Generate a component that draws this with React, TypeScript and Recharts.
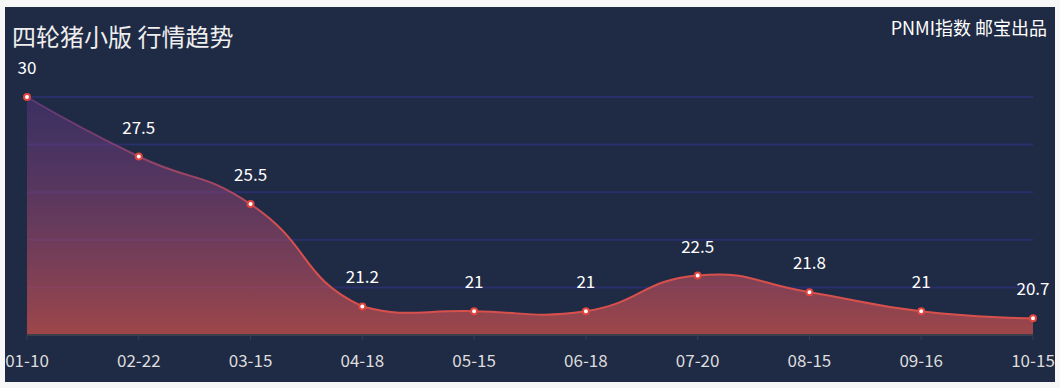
import { AreaChart, Area, XAxis, YAxis, CartesianGrid } from 'recharts';

const dates = ['01-10', '02-22', '03-15', '04-18', '05-15', '06-18', '07-20', '08-15', '09-16', '10-15'];
const prices = [30, 27.5, 25.5, 21.2, 21, 21, 22.5, 21.8, 21, 20.7];
const yTicks = [20, 22, 24, 26, 28, 30];

const data = dates.map((date, i) => ({ date, price: prices[i] }));

const FONT = '"Noto Sans CJK SC", "Noto Sans", sans-serif';

// echarts-style smooth bezier (smooth = 0.5, clamped to the points' bounding box)
const smoothCurve = (context: any) => {
  let pts: number[][] = [];
  let line = NaN;
  const draw = () => {
    if (!pts.length) return;
    const smooth = 0.5;
    const xs = pts.map((p) => p[0]);
    const ys = pts.map((p) => p[1]);
    const minX = Math.min(...xs), maxX = Math.max(...xs);
    const minY = Math.min(...ys), maxY = Math.max(...ys);
    const clampX = (v: number) => Math.max(minX, Math.min(maxX, v));
    const clampY = (v: number) => Math.max(minY, Math.min(maxY, v));
    const [x0, y0] = pts[0];
    if (line) context.lineTo(x0, y0);
    else context.moveTo(x0, y0);
    let cp0 = [x0, y0];
    for (let i = 1; i < pts.length; i++) {
      const p = pts[i];
      const prev = pts[i - 1];
      const next = pts[i + 1];
      let cp1 = [p[0], p[1]];
      let v = [0, 0];
      let ratio = 0.5;
      if (next) {
        v = [next[0] - prev[0], next[1] - prev[1]];
        const lenPrev = Math.hypot(p[0] - prev[0], p[1] - prev[1]);
        const lenNext = Math.hypot(next[0] - p[0], next[1] - p[1]);
        ratio = lenNext / (lenNext + lenPrev || 1);
        cp1 = [p[0] - v[0] * smooth * (1 - ratio), p[1] - v[1] * smooth * (1 - ratio)];
      }
      context.bezierCurveTo(
        clampX(cp0[0]), clampY(cp0[1]),
        clampX(cp1[0]), clampY(cp1[1]),
        p[0], p[1]
      );
      cp0 = [p[0] + v[0] * smooth * ratio, p[1] + v[1] * smooth * ratio];
    }
  };
  return {
    areaStart() { line = 0; },
    areaEnd() { line = NaN; },
    lineStart() { pts = []; },
    point(x: number, y: number) { pts.push([+x, +y]); },
    lineEnd() {
      draw();
      if (line || (line !== 0 && pts.length === 1)) context.closePath();
      line = 1 - line;
    },
  };
};

const NoTick = () => <g />;

export default function App() {
  return (
    <div style={{ position: 'fixed', left: 0, top: 0, width: 1060, height: 388, background: '#f7f7f8' }}>
      <div
        style={{
          position: 'absolute',
          left: 5,
          top: 7,
          width: 1050,
          height: 375,
          background: '#1f2a44',
          fontFamily: FONT,
        }}
      >
        <div style={{ position: 'absolute', left: 7, top: 13, fontSize: 24, color: '#eeeeee', lineHeight: '32px' }}>
          四轮猪小版 行情趋势
        </div>
        <div style={{ position: 'absolute', right: 8, top: 8, fontSize: 18, color: '#ffffff', lineHeight: '24px' }}>
          PNMI指数 邮宝出品
        </div>
        <AreaChart
          width={1050}
          height={375}
          data={data}
          margin={{ top: 90, right: 22, bottom: 17, left: 22 }}
          style={{ position: 'absolute', left: 0, top: 0 }}
        >
          <defs>
            <linearGradient id="priceFill" x1="0" y1="0" x2="0" y2="1">
              <stop offset="0%" stopColor="#6e3c96" stopOpacity={0.35} />
              <stop offset="100%" stopColor="#c8504b" stopOpacity={0.75} />
            </linearGradient>
            <linearGradient id="priceStroke" x1="0" y1="0" x2="0" y2="1">
              <stop offset="0%" stopColor="#7a3f8c" stopOpacity={0.6} />
              <stop offset="60%" stopColor="#d8504c" stopOpacity={1} />
              <stop offset="100%" stopColor="#d8504c" stopOpacity={1} />
            </linearGradient>
          </defs>
          <CartesianGrid vertical={false} stroke="#282f6b" strokeWidth={2} />
          <XAxis
            dataKey="date"
            height={30}
            axisLine={{ stroke: '#3b3f4c', strokeWidth: 2 }}
            tickLine={{ stroke: '#3b3f4c' }}
            tickSize={5}
            tickMargin={15}
            interval={0}
            tick={{ fill: '#dddddd', fontSize: 17, fontFamily: FONT }}
          />
          <YAxis
            width={0}
            domain={[20, 30]}
            ticks={yTicks}
            interval={0}
            tick={NoTick}
            tickSize={5}
            axisLine={{ stroke: '#3b3f4c', strokeWidth: 2 }}
            tickLine={{ stroke: '#3b3f4c' }}
          />
          <Area
            type={smoothCurve as any}
            dataKey="price"
            stroke="url(#priceStroke)"
            strokeWidth={2}
            fill="url(#priceFill)"
            fillOpacity={1}
            isAnimationActive={false}
            dot={{ r: 3, fill: '#ffffff', stroke: '#e0443f', strokeWidth: 2, fillOpacity: 1 }}
            activeDot={false}
            label={{ position: 'top', offset: 23, fill: '#ffffff', fontSize: 17, fontFamily: FONT }}
          />
        </AreaChart>
      </div>
    </div>
  );
}
